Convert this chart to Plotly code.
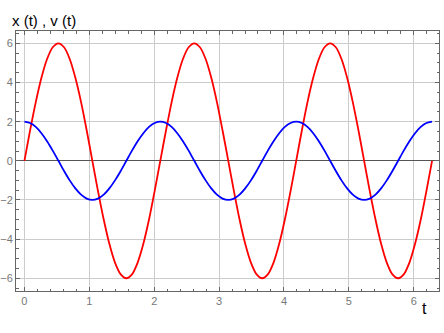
import plotly.graph_objects as go

# sample times (every 1/24 of a period)
t = [0.000, 0.087, 0.175, 0.262, 0.349, 0.436, 0.524, 0.611, 0.698, 0.785, 0.873, 0.960,
     1.047, 1.134, 1.222, 1.309, 1.396, 1.484, 1.571, 1.658, 1.745, 1.833, 1.920, 2.007,
     2.094, 2.182, 2.269, 2.356, 2.443, 2.531, 2.618, 2.705, 2.793, 2.880, 2.967, 3.054,
     3.142, 3.229, 3.316, 3.403, 3.491, 3.578, 3.665, 3.752, 3.840, 3.927, 4.014, 4.102,
     4.189, 4.276, 4.363, 4.451, 4.538, 4.625, 4.712, 4.800, 4.887, 4.974, 5.061, 5.149,
     5.236, 5.323, 5.411, 5.498, 5.585, 5.672, 5.760, 5.847, 5.934, 6.021, 6.109, 6.196,
     6.283]
# red curve v(t)
v = [0.0, 1.55, 3.0, 4.24, 5.2, 5.8, 6.0, 5.8, 5.2, 4.24, 3.0, 1.55,
     0.0, -1.55, -3.0, -4.24, -5.2, -5.8, -6.0, -5.8, -5.2, -4.24, -3.0, -1.55,
     0.0, 1.55, 3.0, 4.24, 5.2, 5.8, 6.0, 5.8, 5.2, 4.24, 3.0, 1.55,
     0.0, -1.55, -3.0, -4.24, -5.2, -5.8, -6.0, -5.8, -5.2, -4.24, -3.0, -1.55,
     0.0, 1.55, 3.0, 4.24, 5.2, 5.8, 6.0, 5.8, 5.2, 4.24, 3.0, 1.55,
     0.0, -1.55, -3.0, -4.24, -5.2, -5.8, -6.0, -5.8, -5.2, -4.24, -3.0, -1.55,
     0.0]
# blue curve x(t)
x = [2.0, 1.93, 1.73, 1.41, 1.0, 0.52, 0.0, -0.52, -1.0, -1.41, -1.73, -1.93,
     -2.0, -1.93, -1.73, -1.41, -1.0, -0.52, 0.0, 0.52, 1.0, 1.41, 1.73, 1.93,
     2.0, 1.93, 1.73, 1.41, 1.0, 0.52, 0.0, -0.52, -1.0, -1.41, -1.73, -1.93,
     -2.0, -1.93, -1.73, -1.41, -1.0, -0.52, 0.0, 0.52, 1.0, 1.41, 1.73, 1.93,
     2.0, 1.93, 1.73, 1.41, 1.0, 0.52, 0.0, -0.52, -1.0, -1.41, -1.73, -1.93,
     -2.0, -1.93, -1.73, -1.41, -1.0, -0.52, 0.0, 0.52, 1.0, 1.41, 1.73, 1.93,
     2.0]

x_ticks = [0, 1, 2, 3, 4, 5, 6]
y_ticks = [-6, -4, -2, 0, 2, 4, 6]
y_tick_text = ["−6", "−4", "−2", "0", "2", "4", "6"]

fig = go.Figure()
fig.add_trace(go.Scatter(x=t, y=v, mode="lines", line=dict(color="#ff0000", width=1.8, shape="spline", smoothing=0.8)))
fig.add_trace(go.Scatter(x=t, y=x, mode="lines", line=dict(color="#0000ff", width=1.8, shape="spline", smoothing=0.8)))

axis_common = dict(
    showline=True, linecolor="#666666", linewidth=1, mirror="ticks",
    ticks="inside", ticklen=4, tickcolor="#666666",
    showgrid=True, gridcolor="#cccccc", gridwidth=1, automargin=False,
    tickfont=dict(family="Liberation Sans", size=11, color="#777777"),
)

fig.update_xaxes(
    range=[-0.13, 6.39], tickvals=x_ticks,
    minor=dict(dtick=0.2, ticks="inside", ticklen=2.5, tickcolor="#666666", showgrid=False),
    zeroline=False, **axis_common,
)
fig.update_yaxes(
    range=[-6.65, 6.63], tickvals=y_ticks, ticktext=y_tick_text,
    minor=dict(dtick=0.5, ticks="inside", ticklen=2.5, tickcolor="#666666", showgrid=False),
    zeroline=True, zerolinecolor="#555555", zerolinewidth=1, **axis_common,
)

fig.add_annotation(text="x (t) , v (t)", xref="paper", yref="paper", x=-0.015, y=1.0,
                   xanchor="left", yanchor="bottom", showarrow=False,
                   font=dict(family="Liberation Sans", size=15, color="#000000"))
fig.add_annotation(text="t", xref="paper", yref="paper", x=0.965, y=-0.025,
                   xanchor="center", yanchor="top", showarrow=False,
                   font=dict(family="Liberation Sans", size=16, color="#000000"))

fig.update_layout(
    width=444, height=333, showlegend=False,
    margin=dict(l=16, r=5, t=31, b=42),
    plot_bgcolor="#ffffff", paper_bgcolor="#ffffff",
)

fig.write_html("out.html")
